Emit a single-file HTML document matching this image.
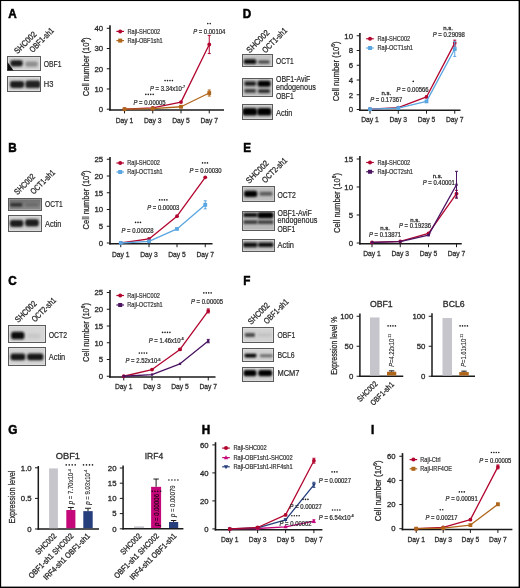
<!DOCTYPE html>
<html><head><meta charset="utf-8"><style>
html,body{margin:0;padding:0;background:#fff;overflow:hidden;width:520px;height:588px;}
svg{display:block;font-family:"Liberation Sans",sans-serif;will-change:transform;}
</style></head><body>
<svg width="520" height="588" viewBox="0 0 520 588">
<defs>
<filter id="b0" x="-50%" y="-100%" width="200%" height="300%"><feGaussianBlur stdDeviation="0.5"/></filter>
<filter id="b1" x="-50%" y="-100%" width="200%" height="300%"><feGaussianBlur stdDeviation="0.95"/></filter>
<filter id="b2" x="-50%" y="-100%" width="200%" height="300%"><feGaussianBlur stdDeviation="1.5"/></filter>
</defs>
<rect x="0" y="0" width="520" height="588" fill="#fff"/>
<text transform="translate(8.20,17.80) scale(0.900,1)" font-size="13" text-anchor="start" fill="#000" font-weight="bold" stroke="#000" stroke-width="0.55">A</text>
<text transform="translate(17.60,54.30) rotate(-45) scale(0.866,1)" font-size="8.4" text-anchor="start" fill="#2a2a2a" stroke="#2a2a2a" stroke-width="0.3">SHC002</text>
<text transform="translate(32.70,52.90) rotate(-45) scale(0.805,1)" font-size="8.4" text-anchor="start" fill="#2a2a2a" stroke="#2a2a2a" stroke-width="0.3">OBF1-sh1</text>
<rect x="7.50" y="56.50" width="33.00" height="14.00" fill="#d2d2d2"/>
<clipPath id="cp0"><rect x="7.50" y="56.50" width="33.00" height="14.00"/></clipPath>
<g clip-path="url(#cp0)">
<rect x="7.50" y="56.50" width="33.00" height="14.00" fill="none" stroke="#fff" stroke-opacity="0.3" stroke-width="2.4" filter="url(#b0)"/>
<rect x="10.40" y="60.30" width="12.30" height="6.10" rx="2.04" fill="#1e1e1e" filter="url(#b1)"/>
<rect x="25.40" y="61.40" width="12.30" height="5.40" rx="1.77" fill="#8e8e8e" filter="url(#b1)"/>
</g>
<rect x="7.50" y="56.50" width="33.00" height="14.00" fill="none" stroke="#5a5a5a" stroke-width="1"/>
<path d="M7.5,62 L7.5,70.5 L13.5,70.5 Z" fill="#111" filter="url(#b0)"/>
<rect x="7.50" y="76.50" width="33.00" height="15.00" fill="#d2d2d2"/>
<clipPath id="cp1"><rect x="7.50" y="76.50" width="33.00" height="15.00"/></clipPath>
<g clip-path="url(#cp1)">
<rect x="7.50" y="76.50" width="33.00" height="15.00" fill="none" stroke="#fff" stroke-opacity="0.3" stroke-width="2.4" filter="url(#b0)"/>
<rect x="10.00" y="80.90" width="14.20" height="7.10" rx="2.42" fill="#1e1e1e" filter="url(#b1)"/>
<rect x="25.40" y="80.50" width="15.00" height="7.50" rx="2.58" fill="#222" filter="url(#b1)"/>
</g>
<rect x="7.50" y="76.50" width="33.00" height="15.00" fill="none" stroke="#5a5a5a" stroke-width="1"/>
<text transform="translate(43.80,67.40) scale(0.807,1)" font-size="8.4" text-anchor="start" fill="#2a2a2a" stroke="#2a2a2a" stroke-width="0.2">OBF1</text>
<text transform="translate(43.80,86.60) scale(0.894,1)" font-size="8.4" text-anchor="start" fill="#2a2a2a" stroke="#2a2a2a" stroke-width="0.2">H3</text>
<line x1="110.00" y1="25.20" x2="110.00" y2="110.80" stroke="#1a1a1a" stroke-width="1.6"/>
<line x1="109.20" y1="110.00" x2="224.00" y2="110.00" stroke="#1a1a1a" stroke-width="1.6"/>
<line x1="106.80" y1="109.20" x2="110.00" y2="109.20" stroke="#1a1a1a" stroke-width="1"/>
<text transform="translate(103.10,112.01)" font-size="7.8" text-anchor="end" fill="#2a2a2a" stroke="#2a2a2a" stroke-width="0.3">0</text>
<line x1="106.80" y1="88.97" x2="110.00" y2="88.97" stroke="#1a1a1a" stroke-width="1"/>
<text transform="translate(103.10,91.78)" font-size="7.8" text-anchor="end" fill="#2a2a2a" stroke="#2a2a2a" stroke-width="0.3">10</text>
<line x1="106.80" y1="68.75" x2="110.00" y2="68.75" stroke="#1a1a1a" stroke-width="1"/>
<text transform="translate(103.10,71.56)" font-size="7.8" text-anchor="end" fill="#2a2a2a" stroke="#2a2a2a" stroke-width="0.3">20</text>
<line x1="106.80" y1="48.53" x2="110.00" y2="48.53" stroke="#1a1a1a" stroke-width="1"/>
<text transform="translate(103.10,51.33)" font-size="7.8" text-anchor="end" fill="#2a2a2a" stroke="#2a2a2a" stroke-width="0.3">30</text>
<line x1="106.80" y1="28.30" x2="110.00" y2="28.30" stroke="#1a1a1a" stroke-width="1"/>
<text transform="translate(103.10,31.11)" font-size="7.8" text-anchor="end" fill="#2a2a2a" stroke="#2a2a2a" stroke-width="0.3">40</text>
<line x1="124.50" y1="110.00" x2="124.50" y2="113.40" stroke="#1a1a1a" stroke-width="1"/>
<line x1="152.75" y1="110.00" x2="152.75" y2="113.40" stroke="#1a1a1a" stroke-width="1"/>
<line x1="181.00" y1="110.00" x2="181.00" y2="113.40" stroke="#1a1a1a" stroke-width="1"/>
<line x1="209.25" y1="110.00" x2="209.25" y2="113.40" stroke="#1a1a1a" stroke-width="1"/>
<polyline points="124.50,109.20 152.75,107.78 181.00,102.12 209.25,44.48" fill="none" stroke="#b2062f" stroke-width="1.3" stroke-linejoin="round"/>
<circle cx="124.50" cy="109.20" r="1.9" fill="#b2062f"/>
<circle cx="152.75" cy="107.78" r="1.9" fill="#b2062f"/>
<circle cx="181.00" cy="102.12" r="1.9" fill="#b2062f"/>
<line x1="209.25" y1="35.38" x2="209.25" y2="53.58" stroke="#b2062f" stroke-width="1"/>
<line x1="207.75" y1="35.38" x2="210.75" y2="35.38" stroke="#b2062f" stroke-width="1"/>
<line x1="207.75" y1="53.58" x2="210.75" y2="53.58" stroke="#b2062f" stroke-width="1"/>
<circle cx="209.25" cy="44.48" r="1.9" fill="#b2062f"/>
<polyline points="124.50,109.20 152.75,108.59 181.00,106.77 209.25,93.02" fill="none" stroke="#b0661a" stroke-width="1.3" stroke-linejoin="round"/>
<rect x="122.60" y="107.30" width="3.80" height="3.80" fill="#b0661a"/>
<rect x="150.85" y="106.69" width="3.80" height="3.80" fill="#b0661a"/>
<line x1="181.00" y1="106.17" x2="181.00" y2="107.38" stroke="#b0661a" stroke-width="1"/>
<line x1="179.50" y1="106.17" x2="182.50" y2="106.17" stroke="#b0661a" stroke-width="1"/>
<line x1="179.50" y1="107.38" x2="182.50" y2="107.38" stroke="#b0661a" stroke-width="1"/>
<rect x="179.10" y="104.87" width="3.80" height="3.80" fill="#b0661a"/>
<line x1="209.25" y1="89.99" x2="209.25" y2="96.05" stroke="#b0661a" stroke-width="1"/>
<line x1="207.75" y1="89.99" x2="210.75" y2="89.99" stroke="#b0661a" stroke-width="1"/>
<line x1="207.75" y1="96.05" x2="210.75" y2="96.05" stroke="#b0661a" stroke-width="1"/>
<rect x="207.35" y="91.12" width="3.80" height="3.80" fill="#b0661a"/>
<text transform="translate(89.18,66.80) rotate(-90) scale(0.823,1)" font-size="9.2" text-anchor="middle" fill="#2a2a2a" stroke="#2a2a2a" stroke-width="0.26">Cell number (10<tspan font-size="5.70" dy="-3.86">6</tspan><tspan dy="3.86">)</tspan></text>
<line x1="116.40" y1="31.40" x2="124.00" y2="31.40" stroke="#b2062f" stroke-width="1.2"/>
<circle cx="120.20" cy="31.40" r="2.0" fill="#b2062f"/>
<text transform="translate(127.50,33.85) scale(0.824,1)" font-size="6.8" text-anchor="start" fill="#333" stroke="#333" stroke-width="0.2">Raji-SHC002</text>
<line x1="116.40" y1="40.60" x2="124.00" y2="40.60" stroke="#b0661a" stroke-width="1.2"/>
<rect x="118.20" y="38.60" width="4.00" height="4.00" fill="#b0661a"/>
<text transform="translate(127.50,43.05) scale(0.824,1)" font-size="6.8" text-anchor="start" fill="#333" stroke="#333" stroke-width="0.2">Raji-OBF1sh1</text>
<circle cx="207.78" cy="23.60" r="0.8" fill="#1e1e1e"/>
<circle cx="210.22" cy="23.60" r="0.8" fill="#1e1e1e"/>
<text transform="translate(209.20,33.80) scale(0.900,1)" font-size="6.6" text-anchor="middle" fill="#2a2a2a" stroke="#2a2a2a" stroke-width="0.22"><tspan font-style="italic">P</tspan> = 0.00104</text>
<circle cx="165.07" cy="80.60" r="0.8" fill="#1e1e1e"/>
<circle cx="167.52" cy="80.60" r="0.8" fill="#1e1e1e"/>
<circle cx="169.97" cy="80.60" r="0.8" fill="#1e1e1e"/>
<circle cx="172.42" cy="80.60" r="0.8" fill="#1e1e1e"/>
<text transform="translate(167.50,91.00) scale(0.900,1)" font-size="6.6" text-anchor="middle" fill="#2a2a2a" stroke="#2a2a2a" stroke-width="0.22"><tspan font-style="italic">P</tspan> = 3.34x10<tspan font-size="4.09" dy="-2.64">-7</tspan></text>
<circle cx="145.82" cy="94.40" r="0.8" fill="#1e1e1e"/>
<circle cx="148.27" cy="94.40" r="0.8" fill="#1e1e1e"/>
<circle cx="150.72" cy="94.40" r="0.8" fill="#1e1e1e"/>
<circle cx="153.17" cy="94.40" r="0.8" fill="#1e1e1e"/>
<text transform="translate(149.50,104.70) scale(0.900,1)" font-size="6.6" text-anchor="middle" fill="#2a2a2a" stroke="#2a2a2a" stroke-width="0.22"><tspan font-style="italic">P</tspan> = 0.00005</text>
<text transform="translate(124.50,122.70) scale(0.940,1)" font-size="7.2" text-anchor="middle" fill="#2a2a2a" stroke="#2a2a2a" stroke-width="0.26">Day 1</text>
<text transform="translate(152.75,122.70) scale(0.940,1)" font-size="7.2" text-anchor="middle" fill="#2a2a2a" stroke="#2a2a2a" stroke-width="0.26">Day 3</text>
<text transform="translate(181.00,122.70) scale(0.940,1)" font-size="7.2" text-anchor="middle" fill="#2a2a2a" stroke="#2a2a2a" stroke-width="0.26">Day 5</text>
<text transform="translate(209.25,122.70) scale(0.940,1)" font-size="7.2" text-anchor="middle" fill="#2a2a2a" stroke="#2a2a2a" stroke-width="0.26">Day 7</text>
<text transform="translate(8.20,151.80) scale(0.900,1)" font-size="13" text-anchor="start" fill="#000" font-weight="bold" stroke="#000" stroke-width="0.55">B</text>
<text transform="translate(17.60,195.30) rotate(-45) scale(0.809,1)" font-size="8.4" text-anchor="start" fill="#2a2a2a" stroke="#2a2a2a" stroke-width="0.3">SHC002</text>
<text transform="translate(33.80,194.80) rotate(-45) scale(0.795,1)" font-size="8.4" text-anchor="start" fill="#2a2a2a" stroke="#2a2a2a" stroke-width="0.3">OCT1-sh1</text>
<linearGradient id="bg2" x1="0" y1="0" x2="0" y2="1"><stop offset="0" stop-color="#6e6e6e"/><stop offset="1" stop-color="#8e8e8e"/></linearGradient>
<rect x="8.50" y="198.50" width="33.00" height="12.00" fill="url(#bg2)"/>
<clipPath id="cp2"><rect x="8.50" y="198.50" width="33.00" height="12.00"/></clipPath>
<g clip-path="url(#cp2)">
<rect x="8.50" y="198.50" width="33.00" height="12.00" fill="none" stroke="#fff" stroke-opacity="0.3" stroke-width="2.4" filter="url(#b0)"/>
<rect x="10.20" y="203.00" width="12.10" height="3.50" rx="1.04" fill="#2e2e2e" filter="url(#b1)"/>
<rect x="25.40" y="203.10" width="13.00" height="3.30" rx="0.96" fill="#6a6a6a" filter="url(#b1)"/>
</g>
<rect x="8.50" y="198.50" width="33.00" height="12.00" fill="none" stroke="#5a5a5a" stroke-width="1"/>
<rect x="8.50" y="215.50" width="33.00" height="16.00" fill="#d0d0d0"/>
<clipPath id="cp3"><rect x="8.50" y="215.50" width="33.00" height="16.00"/></clipPath>
<g clip-path="url(#cp3)">
<rect x="8.50" y="215.50" width="33.00" height="16.00" fill="none" stroke="#fff" stroke-opacity="0.3" stroke-width="2.4" filter="url(#b0)"/>
<rect x="9.80" y="220.00" width="13.60" height="7.00" rx="2.38" fill="#1a1a1a" filter="url(#b1)"/>
<rect x="25.10" y="219.20" width="13.80" height="7.20" rx="2.46" fill="#1e1e1e" filter="url(#b1)"/>
</g>
<rect x="8.50" y="215.50" width="33.00" height="16.00" fill="none" stroke="#5a5a5a" stroke-width="1"/>
<text transform="translate(45.00,207.30) scale(0.790,1)" font-size="8.4" text-anchor="start" fill="#2a2a2a" stroke="#2a2a2a" stroke-width="0.2">OCT1</text>
<text transform="translate(45.00,226.50) scale(0.884,1)" font-size="8.4" text-anchor="start" fill="#2a2a2a" stroke="#2a2a2a" stroke-width="0.2">Actin</text>
<line x1="110.00" y1="157.00" x2="110.00" y2="244.60" stroke="#1a1a1a" stroke-width="1.6"/>
<line x1="109.20" y1="243.80" x2="212.50" y2="243.80" stroke="#1a1a1a" stroke-width="1.6"/>
<line x1="106.80" y1="243.00" x2="110.00" y2="243.00" stroke="#1a1a1a" stroke-width="1"/>
<text transform="translate(103.10,245.81)" font-size="7.8" text-anchor="end" fill="#2a2a2a" stroke="#2a2a2a" stroke-width="0.3">0</text>
<line x1="106.80" y1="226.25" x2="110.00" y2="226.25" stroke="#1a1a1a" stroke-width="1"/>
<text transform="translate(103.10,229.06)" font-size="7.8" text-anchor="end" fill="#2a2a2a" stroke="#2a2a2a" stroke-width="0.3">5</text>
<line x1="106.80" y1="209.50" x2="110.00" y2="209.50" stroke="#1a1a1a" stroke-width="1"/>
<text transform="translate(103.10,212.31)" font-size="7.8" text-anchor="end" fill="#2a2a2a" stroke="#2a2a2a" stroke-width="0.3">10</text>
<line x1="106.80" y1="192.75" x2="110.00" y2="192.75" stroke="#1a1a1a" stroke-width="1"/>
<text transform="translate(103.10,195.56)" font-size="7.8" text-anchor="end" fill="#2a2a2a" stroke="#2a2a2a" stroke-width="0.3">15</text>
<line x1="106.80" y1="176.00" x2="110.00" y2="176.00" stroke="#1a1a1a" stroke-width="1"/>
<text transform="translate(103.10,178.81)" font-size="7.8" text-anchor="end" fill="#2a2a2a" stroke="#2a2a2a" stroke-width="0.3">20</text>
<line x1="106.80" y1="159.25" x2="110.00" y2="159.25" stroke="#1a1a1a" stroke-width="1"/>
<text transform="translate(103.10,162.06)" font-size="7.8" text-anchor="end" fill="#2a2a2a" stroke="#2a2a2a" stroke-width="0.3">25</text>
<line x1="120.75" y1="243.80" x2="120.75" y2="247.20" stroke="#1a1a1a" stroke-width="1"/>
<line x1="149.00" y1="243.80" x2="149.00" y2="247.20" stroke="#1a1a1a" stroke-width="1"/>
<line x1="177.00" y1="243.80" x2="177.00" y2="247.20" stroke="#1a1a1a" stroke-width="1"/>
<line x1="205.25" y1="243.80" x2="205.25" y2="247.20" stroke="#1a1a1a" stroke-width="1"/>
<polyline points="120.75,243.00 149.00,238.98 177.00,216.20 205.25,177.34" fill="none" stroke="#b2062f" stroke-width="1.3" stroke-linejoin="round"/>
<circle cx="120.75" cy="243.00" r="1.9" fill="#b2062f"/>
<circle cx="149.00" cy="238.98" r="1.9" fill="#b2062f"/>
<circle cx="177.00" cy="216.20" r="1.9" fill="#b2062f"/>
<circle cx="205.25" cy="177.34" r="1.9" fill="#b2062f"/>
<polyline points="120.75,243.00 149.00,241.32 177.00,228.93 205.25,204.81" fill="none" stroke="#5aa6e0" stroke-width="1.3" stroke-linejoin="round"/>
<rect x="118.85" y="241.10" width="3.80" height="3.80" fill="#5aa6e0"/>
<rect x="147.10" y="239.42" width="3.80" height="3.80" fill="#5aa6e0"/>
<rect x="175.10" y="227.03" width="3.80" height="3.80" fill="#5aa6e0"/>
<line x1="205.25" y1="200.79" x2="205.25" y2="208.83" stroke="#5aa6e0" stroke-width="1"/>
<line x1="203.75" y1="200.79" x2="206.75" y2="200.79" stroke="#5aa6e0" stroke-width="1"/>
<line x1="203.75" y1="208.83" x2="206.75" y2="208.83" stroke="#5aa6e0" stroke-width="1"/>
<rect x="203.35" y="202.91" width="3.80" height="3.80" fill="#5aa6e0"/>
<text transform="translate(88.83,200.00) rotate(-90) scale(0.823,1)" font-size="9.2" text-anchor="middle" fill="#2a2a2a" stroke="#2a2a2a" stroke-width="0.26">Cell number (10<tspan font-size="5.70" dy="-3.86">6</tspan><tspan dy="3.86">)</tspan></text>
<line x1="116.40" y1="163.00" x2="124.00" y2="163.00" stroke="#b2062f" stroke-width="1.2"/>
<circle cx="120.20" cy="163.00" r="2.0" fill="#b2062f"/>
<text transform="translate(127.30,165.45) scale(0.824,1)" font-size="6.8" text-anchor="start" fill="#333" stroke="#333" stroke-width="0.2">Raji-SHC002</text>
<line x1="116.40" y1="172.00" x2="124.00" y2="172.00" stroke="#5aa6e0" stroke-width="1.2"/>
<rect x="118.20" y="170.00" width="4.00" height="4.00" fill="#5aa6e0"/>
<text transform="translate(127.30,174.45) scale(0.824,1)" font-size="6.8" text-anchor="start" fill="#333" stroke="#333" stroke-width="0.2">Raji-OCT1sh1</text>
<circle cx="202.55" cy="162.90" r="0.8" fill="#1e1e1e"/>
<circle cx="205.00" cy="162.90" r="0.8" fill="#1e1e1e"/>
<circle cx="207.45" cy="162.90" r="0.8" fill="#1e1e1e"/>
<text transform="translate(205.50,173.40) scale(0.900,1)" font-size="6.6" text-anchor="middle" fill="#2a2a2a" stroke="#2a2a2a" stroke-width="0.22"><tspan font-style="italic">P</tspan> = 0.00030</text>
<circle cx="159.57" cy="199.90" r="0.8" fill="#1e1e1e"/>
<circle cx="162.02" cy="199.90" r="0.8" fill="#1e1e1e"/>
<circle cx="164.47" cy="199.90" r="0.8" fill="#1e1e1e"/>
<circle cx="166.92" cy="199.90" r="0.8" fill="#1e1e1e"/>
<text transform="translate(163.25,210.40) scale(0.900,1)" font-size="6.6" text-anchor="middle" fill="#2a2a2a" stroke="#2a2a2a" stroke-width="0.22"><tspan font-style="italic">P</tspan> = 0.00003</text>
<circle cx="135.55" cy="222.40" r="0.8" fill="#1e1e1e"/>
<circle cx="138.00" cy="222.40" r="0.8" fill="#1e1e1e"/>
<circle cx="140.45" cy="222.40" r="0.8" fill="#1e1e1e"/>
<text transform="translate(137.50,233.00) scale(0.900,1)" font-size="6.6" text-anchor="middle" fill="#2a2a2a" stroke="#2a2a2a" stroke-width="0.22"><tspan font-style="italic">P</tspan> = 0.00028</text>
<text transform="translate(120.75,256.60) scale(0.940,1)" font-size="7.2" text-anchor="middle" fill="#2a2a2a" stroke="#2a2a2a" stroke-width="0.26">Day 1</text>
<text transform="translate(149.00,256.60) scale(0.940,1)" font-size="7.2" text-anchor="middle" fill="#2a2a2a" stroke="#2a2a2a" stroke-width="0.26">Day 3</text>
<text transform="translate(177.00,256.60) scale(0.940,1)" font-size="7.2" text-anchor="middle" fill="#2a2a2a" stroke="#2a2a2a" stroke-width="0.26">Day 5</text>
<text transform="translate(205.25,256.60) scale(0.940,1)" font-size="7.2" text-anchor="middle" fill="#2a2a2a" stroke="#2a2a2a" stroke-width="0.26">Day 7</text>
<text transform="translate(8.20,284.80) scale(0.900,1)" font-size="13" text-anchor="start" fill="#000" font-weight="bold" stroke="#000" stroke-width="0.55">C</text>
<text transform="translate(18.30,323.10) rotate(-45) scale(0.841,1)" font-size="8.4" text-anchor="start" fill="#2a2a2a" stroke="#2a2a2a" stroke-width="0.3">SHC002</text>
<text transform="translate(34.90,322.60) rotate(-45) scale(0.795,1)" font-size="8.4" text-anchor="start" fill="#2a2a2a" stroke="#2a2a2a" stroke-width="0.3">OCT2-sh1</text>
<rect x="8.50" y="325.50" width="37.00" height="17.00" fill="#d6d6d6"/>
<clipPath id="cp4"><rect x="8.50" y="325.50" width="37.00" height="17.00"/></clipPath>
<g clip-path="url(#cp4)">
<rect x="8.50" y="325.50" width="37.00" height="17.00" fill="none" stroke="#fff" stroke-opacity="0.3" stroke-width="2.4" filter="url(#b0)"/>
<rect x="11.10" y="331.80" width="13.30" height="7.40" rx="2.54" fill="#0e0e0e" filter="url(#b1)"/>
<rect x="27.60" y="333.60" width="12.80" height="4.80" rx="1.54" fill="#c8c8c8" filter="url(#b1)"/>
</g>
<rect x="8.50" y="325.50" width="37.00" height="17.00" fill="none" stroke="#5a5a5a" stroke-width="1"/>
<rect x="8.50" y="347.50" width="37.00" height="18.00" fill="#d4d4d4"/>
<clipPath id="cp5"><rect x="8.50" y="347.50" width="37.00" height="18.00"/></clipPath>
<g clip-path="url(#cp5)">
<rect x="8.50" y="347.50" width="37.00" height="18.00" fill="none" stroke="#fff" stroke-opacity="0.3" stroke-width="2.4" filter="url(#b0)"/>
<rect x="10.50" y="353.60" width="14.80" height="6.60" rx="2.23" fill="#141414" filter="url(#b1)"/>
<rect x="27.10" y="353.40" width="16.30" height="6.80" rx="2.31" fill="#141414" filter="url(#b1)"/>
</g>
<rect x="8.50" y="347.50" width="37.00" height="18.00" fill="none" stroke="#5a5a5a" stroke-width="1"/>
<text transform="translate(48.75,338.20) scale(0.817,1)" font-size="8.4" text-anchor="start" fill="#2a2a2a" stroke="#2a2a2a" stroke-width="0.2">OCT2</text>
<text transform="translate(48.75,359.70) scale(0.884,1)" font-size="8.4" text-anchor="start" fill="#2a2a2a" stroke="#2a2a2a" stroke-width="0.2">Actin</text>
<line x1="110.00" y1="290.00" x2="110.00" y2="377.85" stroke="#1a1a1a" stroke-width="1.6"/>
<line x1="109.20" y1="377.05" x2="215.50" y2="377.05" stroke="#1a1a1a" stroke-width="1.6"/>
<line x1="106.80" y1="376.25" x2="110.00" y2="376.25" stroke="#1a1a1a" stroke-width="1"/>
<text transform="translate(103.10,379.06)" font-size="7.8" text-anchor="end" fill="#2a2a2a" stroke="#2a2a2a" stroke-width="0.3">0</text>
<line x1="106.80" y1="359.50" x2="110.00" y2="359.50" stroke="#1a1a1a" stroke-width="1"/>
<text transform="translate(103.10,362.31)" font-size="7.8" text-anchor="end" fill="#2a2a2a" stroke="#2a2a2a" stroke-width="0.3">5</text>
<line x1="106.80" y1="342.75" x2="110.00" y2="342.75" stroke="#1a1a1a" stroke-width="1"/>
<text transform="translate(103.10,345.56)" font-size="7.8" text-anchor="end" fill="#2a2a2a" stroke="#2a2a2a" stroke-width="0.3">10</text>
<line x1="106.80" y1="326.00" x2="110.00" y2="326.00" stroke="#1a1a1a" stroke-width="1"/>
<text transform="translate(103.10,328.81)" font-size="7.8" text-anchor="end" fill="#2a2a2a" stroke="#2a2a2a" stroke-width="0.3">15</text>
<line x1="106.80" y1="309.25" x2="110.00" y2="309.25" stroke="#1a1a1a" stroke-width="1"/>
<text transform="translate(103.10,312.06)" font-size="7.8" text-anchor="end" fill="#2a2a2a" stroke="#2a2a2a" stroke-width="0.3">20</text>
<line x1="106.80" y1="292.50" x2="110.00" y2="292.50" stroke="#1a1a1a" stroke-width="1"/>
<text transform="translate(103.10,295.31)" font-size="7.8" text-anchor="end" fill="#2a2a2a" stroke="#2a2a2a" stroke-width="0.3">25</text>
<line x1="123.75" y1="377.05" x2="123.75" y2="380.45" stroke="#1a1a1a" stroke-width="1"/>
<line x1="152.00" y1="377.05" x2="152.00" y2="380.45" stroke="#1a1a1a" stroke-width="1"/>
<line x1="180.00" y1="377.05" x2="180.00" y2="380.45" stroke="#1a1a1a" stroke-width="1"/>
<line x1="208.25" y1="377.05" x2="208.25" y2="380.45" stroke="#1a1a1a" stroke-width="1"/>
<polyline points="123.75,376.25 152.00,369.55 180.00,349.45 208.25,310.93" fill="none" stroke="#b2062f" stroke-width="1.3" stroke-linejoin="round"/>
<circle cx="123.75" cy="376.25" r="1.9" fill="#b2062f"/>
<circle cx="152.00" cy="369.55" r="1.9" fill="#b2062f"/>
<line x1="180.00" y1="348.78" x2="180.00" y2="350.12" stroke="#b2062f" stroke-width="1"/>
<line x1="178.50" y1="348.78" x2="181.50" y2="348.78" stroke="#b2062f" stroke-width="1"/>
<line x1="178.50" y1="350.12" x2="181.50" y2="350.12" stroke="#b2062f" stroke-width="1"/>
<circle cx="180.00" cy="349.45" r="1.9" fill="#b2062f"/>
<line x1="208.25" y1="308.91" x2="208.25" y2="312.94" stroke="#b2062f" stroke-width="1"/>
<line x1="206.75" y1="308.91" x2="209.75" y2="308.91" stroke="#b2062f" stroke-width="1"/>
<line x1="206.75" y1="312.94" x2="209.75" y2="312.94" stroke="#b2062f" stroke-width="1"/>
<circle cx="208.25" cy="310.93" r="1.9" fill="#b2062f"/>
<polyline points="123.75,376.25 152.00,374.57 180.00,363.86 208.25,341.07" fill="none" stroke="#4a1462" stroke-width="1.3" stroke-linejoin="round"/>
<rect x="122.60" y="375.10" width="2.30" height="2.30" fill="#4a1462"/>
<rect x="150.85" y="373.43" width="2.30" height="2.30" fill="#4a1462"/>
<rect x="178.85" y="362.71" width="2.30" height="2.30" fill="#4a1462"/>
<line x1="208.25" y1="339.40" x2="208.25" y2="342.75" stroke="#4a1462" stroke-width="1"/>
<line x1="206.75" y1="339.40" x2="209.75" y2="339.40" stroke="#4a1462" stroke-width="1"/>
<line x1="206.75" y1="342.75" x2="209.75" y2="342.75" stroke="#4a1462" stroke-width="1"/>
<rect x="207.10" y="339.93" width="2.30" height="2.30" fill="#4a1462"/>
<text transform="translate(88.83,332.50) rotate(-90) scale(0.823,1)" font-size="9.2" text-anchor="middle" fill="#2a2a2a" stroke="#2a2a2a" stroke-width="0.26">Cell number (10<tspan font-size="5.70" dy="-3.86">6</tspan><tspan dy="3.86">)</tspan></text>
<line x1="116.40" y1="295.50" x2="124.00" y2="295.50" stroke="#b2062f" stroke-width="1.2"/>
<circle cx="120.20" cy="295.50" r="2.0" fill="#b2062f"/>
<text transform="translate(127.30,297.95) scale(0.824,1)" font-size="6.8" text-anchor="start" fill="#333" stroke="#333" stroke-width="0.2">Raji-SHC002</text>
<line x1="116.40" y1="305.00" x2="124.00" y2="305.00" stroke="#4a1462" stroke-width="1.2"/>
<rect x="118.20" y="303.00" width="4.00" height="4.00" fill="#4a1462"/>
<text transform="translate(127.30,307.45) scale(0.824,1)" font-size="6.8" text-anchor="start" fill="#333" stroke="#333" stroke-width="0.2">Raji-OCT2sh1</text>
<circle cx="203.82" cy="292.90" r="0.8" fill="#1e1e1e"/>
<circle cx="206.27" cy="292.90" r="0.8" fill="#1e1e1e"/>
<circle cx="208.72" cy="292.90" r="0.8" fill="#1e1e1e"/>
<circle cx="211.17" cy="292.90" r="0.8" fill="#1e1e1e"/>
<text transform="translate(207.00,304.00) scale(0.900,1)" font-size="6.6" text-anchor="middle" fill="#2a2a2a" stroke="#2a2a2a" stroke-width="0.22"><tspan font-style="italic">P</tspan> = 0.00005</text>
<circle cx="162.57" cy="332.40" r="0.8" fill="#1e1e1e"/>
<circle cx="165.02" cy="332.40" r="0.8" fill="#1e1e1e"/>
<circle cx="167.47" cy="332.40" r="0.8" fill="#1e1e1e"/>
<circle cx="169.92" cy="332.40" r="0.8" fill="#1e1e1e"/>
<text transform="translate(166.25,342.70) scale(0.900,1)" font-size="6.6" text-anchor="middle" fill="#2a2a2a" stroke="#2a2a2a" stroke-width="0.22"><tspan font-style="italic">P</tspan> = 1.46x10<tspan font-size="4.09" dy="-2.64">-6</tspan></text>
<circle cx="139.32" cy="353.10" r="0.8" fill="#1e1e1e"/>
<circle cx="141.77" cy="353.10" r="0.8" fill="#1e1e1e"/>
<circle cx="144.22" cy="353.10" r="0.8" fill="#1e1e1e"/>
<circle cx="146.67" cy="353.10" r="0.8" fill="#1e1e1e"/>
<text transform="translate(143.00,363.40) scale(0.900,1)" font-size="6.6" text-anchor="middle" fill="#2a2a2a" stroke="#2a2a2a" stroke-width="0.22"><tspan font-style="italic">P</tspan> = 2.52x10<tspan font-size="4.09" dy="-2.64">-6</tspan></text>
<text transform="translate(123.75,389.40) scale(0.940,1)" font-size="7.2" text-anchor="middle" fill="#2a2a2a" stroke="#2a2a2a" stroke-width="0.26">Day 1</text>
<text transform="translate(152.00,389.40) scale(0.940,1)" font-size="7.2" text-anchor="middle" fill="#2a2a2a" stroke="#2a2a2a" stroke-width="0.26">Day 3</text>
<text transform="translate(180.00,389.40) scale(0.940,1)" font-size="7.2" text-anchor="middle" fill="#2a2a2a" stroke="#2a2a2a" stroke-width="0.26">Day 5</text>
<text transform="translate(208.25,389.40) scale(0.940,1)" font-size="7.2" text-anchor="middle" fill="#2a2a2a" stroke="#2a2a2a" stroke-width="0.26">Day 7</text>
<text transform="translate(242.70,18.00) scale(0.900,1)" font-size="13" text-anchor="start" fill="#000" font-weight="bold" stroke="#000" stroke-width="0.55">D</text>
<text transform="translate(249.85,53.40) rotate(-45) scale(0.895,1)" font-size="8.4" text-anchor="start" fill="#2a2a2a" stroke="#2a2a2a" stroke-width="0.3">SHC002</text>
<text transform="translate(265.50,53.40) rotate(-45) scale(0.813,1)" font-size="8.4" text-anchor="start" fill="#2a2a2a" stroke="#2a2a2a" stroke-width="0.3">OCT1-sh1</text>
<rect x="242.50" y="54.50" width="30.00" height="12.00" fill="#c4c4c4"/>
<clipPath id="cp6"><rect x="242.50" y="54.50" width="30.00" height="12.00"/></clipPath>
<g clip-path="url(#cp6)">
<rect x="242.50" y="54.50" width="30.00" height="12.00" fill="none" stroke="#fff" stroke-opacity="0.3" stroke-width="2.4" filter="url(#b0)"/>
<rect x="243.80" y="59.20" width="12.50" height="4.80" rx="1.54" fill="#080808" filter="url(#b1)"/>
<rect x="258.30" y="60.50" width="11.20" height="3.10" rx="0.88" fill="#3e3e3e" filter="url(#b1)"/>
</g>
<rect x="242.50" y="54.50" width="30.00" height="12.00" fill="none" stroke="#5a5a5a" stroke-width="1"/>
<rect x="242.50" y="78.50" width="30.00" height="18.00" fill="#bebebe"/>
<clipPath id="cp7"><rect x="242.50" y="78.50" width="30.00" height="18.00"/></clipPath>
<g clip-path="url(#cp7)">
<rect x="242.50" y="78.50" width="30.00" height="18.00" fill="none" stroke="#fff" stroke-opacity="0.3" stroke-width="2.4" filter="url(#b0)"/>
<rect x="244.50" y="81.40" width="11.40" height="4.40" rx="1.38" fill="#141414" filter="url(#b1)"/>
<rect x="257.60" y="80.70" width="13.00" height="6.00" rx="2.00" fill="#000" filter="url(#b1)"/>
<rect x="244.50" y="89.10" width="11.40" height="3.70" rx="1.12" fill="#3a3a3a" filter="url(#b1)"/>
<rect x="258.10" y="89.20" width="11.80" height="3.70" rx="1.12" fill="#2a2a2a" filter="url(#b1)"/>
</g>
<rect x="242.50" y="78.50" width="30.00" height="18.00" fill="none" stroke="#5a5a5a" stroke-width="1"/>
<rect x="242.50" y="104.50" width="30.00" height="15.00" fill="#c6c6c6"/>
<clipPath id="cp8"><rect x="242.50" y="104.50" width="30.00" height="15.00"/></clipPath>
<g clip-path="url(#cp8)">
<rect x="242.50" y="104.50" width="30.00" height="15.00" fill="none" stroke="#fff" stroke-opacity="0.3" stroke-width="2.4" filter="url(#b0)"/>
<rect x="242.50" y="107.90" width="14.60" height="7.70" rx="2.65" fill="#000" filter="url(#b1)"/>
<rect x="257.20" y="108.00" width="14.20" height="7.50" rx="2.58" fill="#000" filter="url(#b1)"/>
</g>
<rect x="242.50" y="104.50" width="30.00" height="15.00" fill="none" stroke="#5a5a5a" stroke-width="1"/>
<text transform="translate(276.00,63.60) scale(0.790,1)" font-size="8.4" text-anchor="start" fill="#2a2a2a" stroke="#2a2a2a" stroke-width="0.2">OCT1</text>
<text transform="translate(276.00,82.20) scale(0.831,1)" font-size="8.4" text-anchor="start" fill="#2a2a2a" stroke="#2a2a2a" stroke-width="0.2">OBF1-AviF</text>
<text transform="translate(276.00,90.30) scale(0.861,1)" font-size="8.4" text-anchor="start" fill="#2a2a2a" stroke="#2a2a2a" stroke-width="0.2">endogenous</text>
<text transform="translate(276.00,98.60) scale(0.807,1)" font-size="8.4" text-anchor="start" fill="#2a2a2a" stroke="#2a2a2a" stroke-width="0.2">OBF1</text>
<text transform="translate(276.00,115.50) scale(0.884,1)" font-size="8.4" text-anchor="start" fill="#2a2a2a" stroke="#2a2a2a" stroke-width="0.2">Actin</text>
<line x1="359.90" y1="33.00" x2="359.90" y2="111.10" stroke="#1a1a1a" stroke-width="1.6"/>
<line x1="359.10" y1="110.30" x2="460.50" y2="110.30" stroke="#1a1a1a" stroke-width="1.6"/>
<line x1="356.70" y1="109.50" x2="359.90" y2="109.50" stroke="#1a1a1a" stroke-width="1"/>
<text transform="translate(353.00,112.31)" font-size="7.8" text-anchor="end" fill="#2a2a2a" stroke="#2a2a2a" stroke-width="0.3">0</text>
<line x1="356.70" y1="94.75" x2="359.90" y2="94.75" stroke="#1a1a1a" stroke-width="1"/>
<text transform="translate(353.00,97.56)" font-size="7.8" text-anchor="end" fill="#2a2a2a" stroke="#2a2a2a" stroke-width="0.3">2</text>
<line x1="356.70" y1="80.00" x2="359.90" y2="80.00" stroke="#1a1a1a" stroke-width="1"/>
<text transform="translate(353.00,82.81)" font-size="7.8" text-anchor="end" fill="#2a2a2a" stroke="#2a2a2a" stroke-width="0.3">4</text>
<line x1="356.70" y1="65.25" x2="359.90" y2="65.25" stroke="#1a1a1a" stroke-width="1"/>
<text transform="translate(353.00,68.06)" font-size="7.8" text-anchor="end" fill="#2a2a2a" stroke="#2a2a2a" stroke-width="0.3">6</text>
<line x1="356.70" y1="50.50" x2="359.90" y2="50.50" stroke="#1a1a1a" stroke-width="1"/>
<text transform="translate(353.00,53.31)" font-size="7.8" text-anchor="end" fill="#2a2a2a" stroke="#2a2a2a" stroke-width="0.3">8</text>
<line x1="356.70" y1="35.75" x2="359.90" y2="35.75" stroke="#1a1a1a" stroke-width="1"/>
<text transform="translate(353.00,38.56)" font-size="7.8" text-anchor="end" fill="#2a2a2a" stroke="#2a2a2a" stroke-width="0.3">10</text>
<line x1="370.00" y1="110.30" x2="370.00" y2="113.70" stroke="#1a1a1a" stroke-width="1"/>
<line x1="398.25" y1="110.30" x2="398.25" y2="113.70" stroke="#1a1a1a" stroke-width="1"/>
<line x1="426.50" y1="110.30" x2="426.50" y2="113.70" stroke="#1a1a1a" stroke-width="1"/>
<line x1="454.75" y1="110.30" x2="454.75" y2="113.70" stroke="#1a1a1a" stroke-width="1"/>
<polyline points="370.00,109.13 398.25,107.66 426.50,96.96 454.75,43.12" fill="none" stroke="#b2062f" stroke-width="1.3" stroke-linejoin="round"/>
<circle cx="370.00" cy="109.13" r="1.9" fill="#b2062f"/>
<circle cx="398.25" cy="107.66" r="1.9" fill="#b2062f"/>
<line x1="426.50" y1="96.22" x2="426.50" y2="97.70" stroke="#b2062f" stroke-width="1"/>
<line x1="425.00" y1="96.22" x2="428.00" y2="96.22" stroke="#b2062f" stroke-width="1"/>
<line x1="425.00" y1="97.70" x2="428.00" y2="97.70" stroke="#b2062f" stroke-width="1"/>
<circle cx="426.50" cy="96.96" r="1.9" fill="#b2062f"/>
<line x1="454.75" y1="40.17" x2="454.75" y2="46.08" stroke="#b2062f" stroke-width="1"/>
<line x1="453.25" y1="40.17" x2="456.25" y2="40.17" stroke="#b2062f" stroke-width="1"/>
<line x1="453.25" y1="46.08" x2="456.25" y2="46.08" stroke="#b2062f" stroke-width="1"/>
<circle cx="454.75" cy="43.12" r="1.9" fill="#b2062f"/>
<polyline points="370.00,109.13 398.25,108.03 426.50,101.39 454.75,49.03" fill="none" stroke="#5aa6e0" stroke-width="1.3" stroke-linejoin="round"/>
<rect x="368.10" y="107.23" width="3.80" height="3.80" fill="#5aa6e0"/>
<rect x="396.35" y="106.12" width="3.80" height="3.80" fill="#5aa6e0"/>
<line x1="426.50" y1="100.65" x2="426.50" y2="102.12" stroke="#5aa6e0" stroke-width="1"/>
<line x1="425.00" y1="100.65" x2="428.00" y2="100.65" stroke="#5aa6e0" stroke-width="1"/>
<line x1="425.00" y1="102.12" x2="428.00" y2="102.12" stroke="#5aa6e0" stroke-width="1"/>
<rect x="424.60" y="99.49" width="3.80" height="3.80" fill="#5aa6e0"/>
<line x1="454.75" y1="41.65" x2="454.75" y2="56.40" stroke="#5aa6e0" stroke-width="1"/>
<line x1="453.25" y1="41.65" x2="456.25" y2="41.65" stroke="#5aa6e0" stroke-width="1"/>
<line x1="453.25" y1="56.40" x2="456.25" y2="56.40" stroke="#5aa6e0" stroke-width="1"/>
<rect x="452.85" y="47.13" width="3.80" height="3.80" fill="#5aa6e0"/>
<text transform="translate(338.88,71.40) rotate(-90) scale(0.837,1)" font-size="9.2" text-anchor="middle" fill="#2a2a2a" stroke="#2a2a2a" stroke-width="0.26">Cell number (10<tspan font-size="5.70" dy="-3.86">6</tspan><tspan dy="3.86">)</tspan></text>
<line x1="366.20" y1="38.75" x2="373.80" y2="38.75" stroke="#b2062f" stroke-width="1.2"/>
<circle cx="370.00" cy="38.75" r="2.0" fill="#b2062f"/>
<text transform="translate(377.50,41.20) scale(0.824,1)" font-size="6.8" text-anchor="start" fill="#333" stroke="#333" stroke-width="0.2">Raji-SHC002</text>
<line x1="366.20" y1="48.00" x2="373.80" y2="48.00" stroke="#5aa6e0" stroke-width="1.2"/>
<rect x="368.00" y="46.00" width="4.00" height="4.00" fill="#5aa6e0"/>
<text transform="translate(377.50,50.45) scale(0.824,1)" font-size="6.8" text-anchor="start" fill="#333" stroke="#333" stroke-width="0.2">Raji-OCT1sh1</text>
<text transform="translate(448.00,29.50)" font-size="6" text-anchor="middle" fill="#2a2a2a" stroke="#2a2a2a" stroke-width="0.3">n.s.</text>
<text transform="translate(448.75,36.70) scale(0.900,1)" font-size="6.6" text-anchor="middle" fill="#2a2a2a" stroke="#2a2a2a" stroke-width="0.22"><tspan font-style="italic">P</tspan> = 0.29098</text>
<circle cx="413.25" cy="81.40" r="0.8" fill="#1e1e1e"/>
<text transform="translate(412.50,91.70) scale(0.900,1)" font-size="6.6" text-anchor="middle" fill="#2a2a2a" stroke="#2a2a2a" stroke-width="0.22"><tspan font-style="italic">P</tspan> = 0.00566</text>
<text transform="translate(386.25,95.30)" font-size="6" text-anchor="middle" fill="#2a2a2a" stroke="#2a2a2a" stroke-width="0.3">n.s.</text>
<text transform="translate(386.25,102.20) scale(0.900,1)" font-size="6.6" text-anchor="middle" fill="#2a2a2a" stroke="#2a2a2a" stroke-width="0.22"><tspan font-style="italic">P</tspan> = 0.17367</text>
<text transform="translate(370.00,122.30) scale(0.940,1)" font-size="7.2" text-anchor="middle" fill="#2a2a2a" stroke="#2a2a2a" stroke-width="0.26">Day 1</text>
<text transform="translate(398.25,122.30) scale(0.940,1)" font-size="7.2" text-anchor="middle" fill="#2a2a2a" stroke="#2a2a2a" stroke-width="0.26">Day 3</text>
<text transform="translate(426.50,122.30) scale(0.940,1)" font-size="7.2" text-anchor="middle" fill="#2a2a2a" stroke="#2a2a2a" stroke-width="0.26">Day 5</text>
<text transform="translate(454.75,122.30) scale(0.940,1)" font-size="7.2" text-anchor="middle" fill="#2a2a2a" stroke="#2a2a2a" stroke-width="0.26">Day 7</text>
<text transform="translate(243.20,151.80) scale(0.900,1)" font-size="13" text-anchor="start" fill="#000" font-weight="bold" stroke="#000" stroke-width="0.55">E</text>
<text transform="translate(249.20,183.90) rotate(-45) scale(0.895,1)" font-size="8.4" text-anchor="start" fill="#2a2a2a" stroke="#2a2a2a" stroke-width="0.3">SHC002</text>
<text transform="translate(265.30,183.40) rotate(-45) scale(0.821,1)" font-size="8.4" text-anchor="start" fill="#2a2a2a" stroke="#2a2a2a" stroke-width="0.3">OCT2-sh1</text>
<rect x="242.50" y="186.50" width="32.00" height="15.00" fill="#bfbfbf"/>
<clipPath id="cp9"><rect x="242.50" y="186.50" width="32.00" height="15.00"/></clipPath>
<g clip-path="url(#cp9)">
<rect x="242.50" y="186.50" width="32.00" height="15.00" fill="none" stroke="#fff" stroke-opacity="0.3" stroke-width="2.4" filter="url(#b0)"/>
<rect x="244.10" y="190.80" width="13.20" height="6.30" rx="2.12" fill="#000" filter="url(#b1)"/>
<rect x="259.60" y="191.70" width="12.80" height="4.00" rx="1.23" fill="#5a5a5a" filter="url(#b1)"/>
</g>
<rect x="242.50" y="186.50" width="32.00" height="15.00" fill="none" stroke="#5a5a5a" stroke-width="1"/>
<rect x="242.50" y="211.50" width="32.00" height="19.00" fill="#b9b9b9"/>
<clipPath id="cp10"><rect x="242.50" y="211.50" width="32.00" height="19.00"/></clipPath>
<g clip-path="url(#cp10)">
<rect x="242.50" y="211.50" width="32.00" height="19.00" fill="none" stroke="#fff" stroke-opacity="0.3" stroke-width="2.4" filter="url(#b0)"/>
<rect x="243.40" y="212.90" width="14.00" height="4.20" rx="1.31" fill="#101010" filter="url(#b1)"/>
<rect x="257.60" y="212.30" width="15.80" height="6.00" rx="2.00" fill="#000" filter="url(#b1)"/>
<rect x="243.40" y="220.30" width="14.00" height="3.60" rx="1.08" fill="#3a3a3a" filter="url(#b1)"/>
<rect x="257.60" y="220.30" width="15.80" height="3.60" rx="1.08" fill="#404040" filter="url(#b1)"/>
</g>
<rect x="242.50" y="211.50" width="32.00" height="19.00" fill="none" stroke="#5a5a5a" stroke-width="1"/>
<rect x="242.50" y="239.50" width="32.00" height="12.00" fill="#c2c2c2"/>
<clipPath id="cp11"><rect x="242.50" y="239.50" width="32.00" height="12.00"/></clipPath>
<g clip-path="url(#cp11)">
<rect x="242.50" y="239.50" width="32.00" height="12.00" fill="none" stroke="#fff" stroke-opacity="0.3" stroke-width="2.4" filter="url(#b0)"/>
<rect x="243.10" y="242.60" width="14.30" height="4.60" rx="1.46" fill="#0e0e0e" filter="url(#b1)"/>
<rect x="258.10" y="242.40" width="15.30" height="4.70" rx="1.50" fill="#0e0e0e" filter="url(#b1)"/>
</g>
<rect x="242.50" y="239.50" width="32.00" height="12.00" fill="none" stroke="#5a5a5a" stroke-width="1"/>
<text transform="translate(277.50,197.80) scale(0.817,1)" font-size="8.4" text-anchor="start" fill="#2a2a2a" stroke="#2a2a2a" stroke-width="0.2">OCT2</text>
<text transform="translate(277.50,215.80) scale(0.831,1)" font-size="8.4" text-anchor="start" fill="#2a2a2a" stroke="#2a2a2a" stroke-width="0.2">OBF1-AviF</text>
<text transform="translate(277.50,223.30) scale(0.861,1)" font-size="8.4" text-anchor="start" fill="#2a2a2a" stroke="#2a2a2a" stroke-width="0.2">endogenous</text>
<text transform="translate(277.50,231.50) scale(0.807,1)" font-size="8.4" text-anchor="start" fill="#2a2a2a" stroke="#2a2a2a" stroke-width="0.2">OBF1</text>
<text transform="translate(277.50,247.80) scale(0.884,1)" font-size="8.4" text-anchor="start" fill="#2a2a2a" stroke="#2a2a2a" stroke-width="0.2">Actin</text>
<line x1="359.90" y1="156.10" x2="359.90" y2="244.60" stroke="#1a1a1a" stroke-width="1.6"/>
<line x1="359.10" y1="243.80" x2="461.75" y2="243.80" stroke="#1a1a1a" stroke-width="1.6"/>
<line x1="356.70" y1="243.00" x2="359.90" y2="243.00" stroke="#1a1a1a" stroke-width="1"/>
<text transform="translate(353.00,245.81)" font-size="7.8" text-anchor="end" fill="#2a2a2a" stroke="#2a2a2a" stroke-width="0.3">0</text>
<line x1="356.70" y1="215.00" x2="359.90" y2="215.00" stroke="#1a1a1a" stroke-width="1"/>
<text transform="translate(353.00,217.81)" font-size="7.8" text-anchor="end" fill="#2a2a2a" stroke="#2a2a2a" stroke-width="0.3">5</text>
<line x1="356.70" y1="187.00" x2="359.90" y2="187.00" stroke="#1a1a1a" stroke-width="1"/>
<text transform="translate(353.00,189.81)" font-size="7.8" text-anchor="end" fill="#2a2a2a" stroke="#2a2a2a" stroke-width="0.3">10</text>
<line x1="356.70" y1="159.00" x2="359.90" y2="159.00" stroke="#1a1a1a" stroke-width="1"/>
<text transform="translate(353.00,161.81)" font-size="7.8" text-anchor="end" fill="#2a2a2a" stroke="#2a2a2a" stroke-width="0.3">15</text>
<line x1="372.00" y1="243.80" x2="372.00" y2="247.20" stroke="#1a1a1a" stroke-width="1"/>
<line x1="400.25" y1="243.80" x2="400.25" y2="247.20" stroke="#1a1a1a" stroke-width="1"/>
<line x1="428.50" y1="243.80" x2="428.50" y2="247.20" stroke="#1a1a1a" stroke-width="1"/>
<line x1="456.50" y1="243.80" x2="456.50" y2="247.20" stroke="#1a1a1a" stroke-width="1"/>
<polyline points="372.00,242.44 400.25,241.32 428.50,233.48 456.50,193.72" fill="none" stroke="#b2062f" stroke-width="1.3" stroke-linejoin="round"/>
<circle cx="372.00" cy="242.44" r="1.9" fill="#b2062f"/>
<circle cx="400.25" cy="241.32" r="1.9" fill="#b2062f"/>
<line x1="428.50" y1="232.92" x2="428.50" y2="234.04" stroke="#b2062f" stroke-width="1"/>
<line x1="427.00" y1="232.92" x2="430.00" y2="232.92" stroke="#b2062f" stroke-width="1"/>
<line x1="427.00" y1="234.04" x2="430.00" y2="234.04" stroke="#b2062f" stroke-width="1"/>
<circle cx="428.50" cy="233.48" r="1.9" fill="#b2062f"/>
<line x1="456.50" y1="190.36" x2="456.50" y2="197.08" stroke="#b2062f" stroke-width="1"/>
<line x1="455.00" y1="190.36" x2="458.00" y2="190.36" stroke="#b2062f" stroke-width="1"/>
<line x1="455.00" y1="197.08" x2="458.00" y2="197.08" stroke="#b2062f" stroke-width="1"/>
<circle cx="456.50" cy="193.72" r="1.9" fill="#b2062f"/>
<polyline points="372.00,242.44 400.25,241.60 428.50,235.16 456.50,184.76" fill="none" stroke="#4a1462" stroke-width="1.3" stroke-linejoin="round"/>
<rect x="370.85" y="241.29" width="2.30" height="2.30" fill="#4a1462"/>
<rect x="399.10" y="240.45" width="2.30" height="2.30" fill="#4a1462"/>
<line x1="428.50" y1="234.60" x2="428.50" y2="235.72" stroke="#4a1462" stroke-width="1"/>
<line x1="427.00" y1="234.60" x2="430.00" y2="234.60" stroke="#4a1462" stroke-width="1"/>
<line x1="427.00" y1="235.72" x2="430.00" y2="235.72" stroke="#4a1462" stroke-width="1"/>
<rect x="427.35" y="234.01" width="2.30" height="2.30" fill="#4a1462"/>
<line x1="456.50" y1="171.32" x2="456.50" y2="198.20" stroke="#4a1462" stroke-width="1"/>
<line x1="455.00" y1="171.32" x2="458.00" y2="171.32" stroke="#4a1462" stroke-width="1"/>
<line x1="455.00" y1="198.20" x2="458.00" y2="198.20" stroke="#4a1462" stroke-width="1"/>
<rect x="455.35" y="183.61" width="2.30" height="2.30" fill="#4a1462"/>
<text transform="translate(339.58,203.00) rotate(-90) scale(0.837,1)" font-size="9.2" text-anchor="middle" fill="#2a2a2a" stroke="#2a2a2a" stroke-width="0.26">Cell number (10<tspan font-size="5.70" dy="-3.86">6</tspan><tspan dy="3.86">)</tspan></text>
<line x1="366.20" y1="162.50" x2="373.80" y2="162.50" stroke="#b2062f" stroke-width="1.2"/>
<circle cx="370.00" cy="162.50" r="2.0" fill="#b2062f"/>
<text transform="translate(377.50,164.95) scale(0.824,1)" font-size="6.8" text-anchor="start" fill="#333" stroke="#333" stroke-width="0.2">Raji-SHC002</text>
<line x1="366.20" y1="171.75" x2="373.80" y2="171.75" stroke="#4a1462" stroke-width="1.2"/>
<rect x="368.00" y="169.75" width="4.00" height="4.00" fill="#4a1462"/>
<text transform="translate(377.50,174.20) scale(0.824,1)" font-size="6.8" text-anchor="start" fill="#333" stroke="#333" stroke-width="0.2">Raji-OCT2sh1</text>
<text transform="translate(437.50,177.80)" font-size="6" text-anchor="middle" fill="#2a2a2a" stroke="#2a2a2a" stroke-width="0.3">n.s.</text>
<text transform="translate(438.75,185.20) scale(0.900,1)" font-size="6.6" text-anchor="middle" fill="#2a2a2a" stroke="#2a2a2a" stroke-width="0.22"><tspan font-style="italic">P</tspan> = 0.40001</text>
<text transform="translate(415.00,221.50)" font-size="6" text-anchor="middle" fill="#2a2a2a" stroke="#2a2a2a" stroke-width="0.3">n.s.</text>
<text transform="translate(415.00,228.40) scale(0.900,1)" font-size="6.6" text-anchor="middle" fill="#2a2a2a" stroke="#2a2a2a" stroke-width="0.22"><tspan font-style="italic">P</tspan> = 0.19236</text>
<text transform="translate(385.00,230.00)" font-size="6" text-anchor="middle" fill="#2a2a2a" stroke="#2a2a2a" stroke-width="0.3">n.s.</text>
<text transform="translate(385.00,237.20) scale(0.900,1)" font-size="6.6" text-anchor="middle" fill="#2a2a2a" stroke="#2a2a2a" stroke-width="0.22"><tspan font-style="italic">P</tspan> = 0.13871</text>
<text transform="translate(372.00,256.00) scale(0.940,1)" font-size="7.2" text-anchor="middle" fill="#2a2a2a" stroke="#2a2a2a" stroke-width="0.26">Day 1</text>
<text transform="translate(400.25,256.00) scale(0.940,1)" font-size="7.2" text-anchor="middle" fill="#2a2a2a" stroke="#2a2a2a" stroke-width="0.26">Day 3</text>
<text transform="translate(428.50,256.00) scale(0.940,1)" font-size="7.2" text-anchor="middle" fill="#2a2a2a" stroke="#2a2a2a" stroke-width="0.26">Day 5</text>
<text transform="translate(456.50,256.00) scale(0.940,1)" font-size="7.2" text-anchor="middle" fill="#2a2a2a" stroke="#2a2a2a" stroke-width="0.26">Day 7</text>
<text transform="translate(243.20,284.80) scale(0.900,1)" font-size="13" text-anchor="start" fill="#000" font-weight="bold" stroke="#000" stroke-width="0.55">F</text>
<text transform="translate(251.20,324.90) rotate(-45) scale(0.844,1)" font-size="8.4" text-anchor="start" fill="#2a2a2a" stroke="#2a2a2a" stroke-width="0.3">SHC002</text>
<text transform="translate(267.10,324.40) rotate(-45) scale(0.818,1)" font-size="8.4" text-anchor="start" fill="#2a2a2a" stroke="#2a2a2a" stroke-width="0.3">OBF1-sh1</text>
<rect x="242.50" y="327.50" width="31.00" height="15.00" fill="#d2d2d2"/>
<clipPath id="cp12"><rect x="242.50" y="327.50" width="31.00" height="15.00"/></clipPath>
<g clip-path="url(#cp12)">
<rect x="242.50" y="327.50" width="31.00" height="15.00" fill="none" stroke="#fff" stroke-opacity="0.3" stroke-width="2.4" filter="url(#b0)"/>
<rect x="244.90" y="333.00" width="10.10" height="4.10" rx="1.27" fill="#4a4a4a" filter="url(#b1)"/>
<rect x="257.60" y="333.10" width="13.80" height="3.80" rx="1.15" fill="#c4c4c4" filter="url(#b1)"/>
</g>
<rect x="242.50" y="327.50" width="31.00" height="15.00" fill="none" stroke="#5a5a5a" stroke-width="1"/>
<rect x="242.50" y="348.50" width="31.00" height="13.00" fill="#d2d2d2"/>
<clipPath id="cp13"><rect x="242.50" y="348.50" width="31.00" height="13.00"/></clipPath>
<g clip-path="url(#cp13)">
<rect x="242.50" y="348.50" width="31.00" height="13.00" fill="none" stroke="#fff" stroke-opacity="0.3" stroke-width="2.4" filter="url(#b0)"/>
<rect x="244.60" y="353.70" width="11.80" height="3.70" rx="1.12" fill="#000" filter="url(#b1)"/>
<rect x="259.90" y="354.20" width="12.80" height="3.00" rx="0.85" fill="#6a6a6a" filter="url(#b1)"/>
</g>
<rect x="242.50" y="348.50" width="31.00" height="13.00" fill="none" stroke="#5a5a5a" stroke-width="1"/>
<rect x="242.50" y="367.50" width="31.00" height="14.00" fill="#d0d0d0"/>
<clipPath id="cp14"><rect x="242.50" y="367.50" width="31.00" height="14.00"/></clipPath>
<g clip-path="url(#cp14)">
<rect x="242.50" y="367.50" width="31.00" height="14.00" fill="none" stroke="#fff" stroke-opacity="0.3" stroke-width="2.4" filter="url(#b0)"/>
<rect x="243.60" y="370.10" width="12.80" height="6.10" rx="2.04" fill="#000" filter="url(#b1)"/>
<rect x="258.30" y="370.10" width="13.80" height="6.10" rx="2.04" fill="#000" filter="url(#b1)"/>
</g>
<rect x="242.50" y="367.50" width="31.00" height="14.00" fill="none" stroke="#5a5a5a" stroke-width="1"/>
<text transform="translate(277.50,338.30) scale(0.807,1)" font-size="8.4" text-anchor="start" fill="#2a2a2a" stroke="#2a2a2a" stroke-width="0.2">OBF1</text>
<text transform="translate(277.50,358.30) scale(0.819,1)" font-size="8.4" text-anchor="start" fill="#2a2a2a" stroke="#2a2a2a" stroke-width="0.2">BCL6</text>
<text transform="translate(277.50,376.00) scale(0.890,1)" font-size="8.4" text-anchor="start" fill="#2a2a2a" stroke="#2a2a2a" stroke-width="0.2">MCM7</text>
<line x1="359.90" y1="313.40" x2="359.90" y2="376.95" stroke="#1a1a1a" stroke-width="1.5"/>
<line x1="359.15" y1="376.20" x2="403.25" y2="376.20" stroke="#1a1a1a" stroke-width="1.5"/>
<line x1="356.60" y1="376.25" x2="359.90" y2="376.25" stroke="#1a1a1a" stroke-width="1"/>
<text transform="translate(353.30,379.06)" font-size="7.8" text-anchor="end" fill="#2a2a2a" stroke="#2a2a2a" stroke-width="0.3">0</text>
<line x1="356.60" y1="346.25" x2="359.90" y2="346.25" stroke="#1a1a1a" stroke-width="1"/>
<text transform="translate(353.30,349.06)" font-size="7.8" text-anchor="end" fill="#2a2a2a" stroke="#2a2a2a" stroke-width="0.3">50</text>
<line x1="356.60" y1="316.25" x2="359.90" y2="316.25" stroke="#1a1a1a" stroke-width="1"/>
<text transform="translate(353.30,319.06)" font-size="7.8" text-anchor="end" fill="#2a2a2a" stroke="#2a2a2a" stroke-width="0.3">100</text>
<rect x="370.00" y="317.45" width="9.50" height="58.00" fill="#c6c5cb"/>
<rect x="387.00" y="371.75" width="9.25" height="3.70" fill="#b0661a"/>
<line x1="391.62" y1="371.75" x2="391.62" y2="370.85" stroke="#1a1a1a" stroke-width="1"/>
<line x1="388.93" y1="370.85" x2="394.32" y2="370.85" stroke="#1a1a1a" stroke-width="1"/>
<line x1="432.00" y1="313.25" x2="432.00" y2="377.00" stroke="#1a1a1a" stroke-width="1.5"/>
<line x1="431.25" y1="376.25" x2="475.00" y2="376.25" stroke="#1a1a1a" stroke-width="1.5"/>
<line x1="428.70" y1="376.25" x2="432.00" y2="376.25" stroke="#1a1a1a" stroke-width="1"/>
<text transform="translate(425.40,379.06)" font-size="7.8" text-anchor="end" fill="#2a2a2a" stroke="#2a2a2a" stroke-width="0.3">0</text>
<line x1="428.70" y1="346.25" x2="432.00" y2="346.25" stroke="#1a1a1a" stroke-width="1"/>
<text transform="translate(425.40,349.06)" font-size="7.8" text-anchor="end" fill="#2a2a2a" stroke="#2a2a2a" stroke-width="0.3">50</text>
<line x1="428.70" y1="316.25" x2="432.00" y2="316.25" stroke="#1a1a1a" stroke-width="1"/>
<text transform="translate(425.40,319.06)" font-size="7.8" text-anchor="end" fill="#2a2a2a" stroke="#2a2a2a" stroke-width="0.3">100</text>
<rect x="442.50" y="318.05" width="9.50" height="57.45" fill="#c6c5cb"/>
<rect x="459.25" y="372.05" width="9.50" height="3.45" fill="#b0661a"/>
<line x1="464.00" y1="372.05" x2="464.00" y2="371.15" stroke="#1a1a1a" stroke-width="1"/>
<line x1="461.30" y1="371.15" x2="466.70" y2="371.15" stroke="#1a1a1a" stroke-width="1"/>
<text transform="translate(381.30,307.10) scale(0.970,1)" font-size="9" text-anchor="middle" fill="#2a2a2a" stroke="#2a2a2a" stroke-width="0.3">OBF1</text>
<text transform="translate(453.75,307.10) scale(0.970,1)" font-size="9" text-anchor="middle" fill="#2a2a2a" stroke="#2a2a2a" stroke-width="0.3">BCL6</text>
<text transform="translate(336.78,345.70) rotate(-90) scale(0.751,1)" font-size="9.2" text-anchor="middle" fill="#2a2a2a" stroke="#2a2a2a" stroke-width="0.26">Expression level %</text>
<circle cx="388.07" cy="325.90" r="0.8" fill="#1e1e1e"/>
<circle cx="390.52" cy="325.90" r="0.8" fill="#1e1e1e"/>
<circle cx="392.97" cy="325.90" r="0.8" fill="#1e1e1e"/>
<circle cx="395.43" cy="325.90" r="0.8" fill="#1e1e1e"/>
<circle cx="460.07" cy="325.90" r="0.8" fill="#1e1e1e"/>
<circle cx="462.52" cy="325.90" r="0.8" fill="#1e1e1e"/>
<circle cx="464.97" cy="325.90" r="0.8" fill="#1e1e1e"/>
<circle cx="467.43" cy="325.90" r="0.8" fill="#1e1e1e"/>
<text transform="translate(394.10,350.30) rotate(-90) scale(0.858,1)" font-size="6.8" text-anchor="middle" fill="#2a2a2a" stroke="#2a2a2a" stroke-width="0.12"><tspan font-style="italic">P</tspan>=4.22x10<tspan font-size="4.22" dy="-2.72">-11</tspan></text>
<text transform="translate(466.10,350.30) rotate(-90) scale(0.858,1)" font-size="6.8" text-anchor="middle" fill="#2a2a2a" stroke="#2a2a2a" stroke-width="0.12"><tspan font-style="italic">P</tspan>=1.61x10<tspan font-size="4.22" dy="-2.72">-11</tspan></text>
<text transform="translate(378.00,384.50) rotate(-45) scale(0.850,1)" font-size="7.8" text-anchor="end" fill="#2a2a2a" stroke="#2a2a2a" stroke-width="0.3">SHC002</text>
<text transform="translate(394.50,385.00) rotate(-45) scale(0.840,1)" font-size="7.8" text-anchor="end" fill="#2a2a2a" stroke="#2a2a2a" stroke-width="0.3">OBF1-sh1</text>
<text transform="translate(8.20,433.80) scale(0.900,1)" font-size="13" text-anchor="start" fill="#000" font-weight="bold" stroke="#000" stroke-width="0.55">G</text>
<line x1="38.30" y1="466.00" x2="38.30" y2="529.75" stroke="#1a1a1a" stroke-width="1.5"/>
<line x1="37.55" y1="529.00" x2="99.00" y2="529.00" stroke="#1a1a1a" stroke-width="1.5"/>
<line x1="35.00" y1="529.00" x2="38.30" y2="529.00" stroke="#1a1a1a" stroke-width="1"/>
<text transform="translate(31.70,531.81)" font-size="7.8" text-anchor="end" fill="#2a2a2a" stroke="#2a2a2a" stroke-width="0.3">0</text>
<line x1="35.00" y1="498.40" x2="38.30" y2="498.40" stroke="#1a1a1a" stroke-width="1"/>
<text transform="translate(31.70,501.21)" font-size="7.8" text-anchor="end" fill="#2a2a2a" stroke="#2a2a2a" stroke-width="0.3">0.5</text>
<line x1="35.00" y1="467.80" x2="38.30" y2="467.80" stroke="#1a1a1a" stroke-width="1"/>
<text transform="translate(31.70,470.61)" font-size="7.8" text-anchor="end" fill="#2a2a2a" stroke="#2a2a2a" stroke-width="0.3">1.0</text>
<rect x="49.10" y="468.41" width="8.80" height="59.84" fill="#c6c5cb"/>
<rect x="66.30" y="510.03" width="9.10" height="18.22" fill="#c4087a"/>
<line x1="70.85" y1="510.03" x2="70.85" y2="507.46" stroke="#1a1a1a" stroke-width="1"/>
<line x1="67.85" y1="507.46" x2="73.85" y2="507.46" stroke="#1a1a1a" stroke-width="1"/>
<rect x="83.30" y="511.13" width="9.40" height="17.12" fill="#263f7c"/>
<line x1="88.00" y1="511.13" x2="88.00" y2="508.25" stroke="#1a1a1a" stroke-width="1"/>
<line x1="85.00" y1="508.25" x2="91.00" y2="508.25" stroke="#1a1a1a" stroke-width="1"/>
<line x1="123.10" y1="465.50" x2="123.10" y2="529.55" stroke="#1a1a1a" stroke-width="1.5"/>
<line x1="122.35" y1="528.80" x2="183.40" y2="528.80" stroke="#1a1a1a" stroke-width="1.5"/>
<line x1="119.80" y1="528.80" x2="123.10" y2="528.80" stroke="#1a1a1a" stroke-width="1"/>
<text transform="translate(116.50,531.61)" font-size="7.8" text-anchor="end" fill="#2a2a2a" stroke="#2a2a2a" stroke-width="0.3">0</text>
<line x1="119.80" y1="513.60" x2="123.10" y2="513.60" stroke="#1a1a1a" stroke-width="1"/>
<text transform="translate(116.50,516.41)" font-size="7.8" text-anchor="end" fill="#2a2a2a" stroke="#2a2a2a" stroke-width="0.3">5</text>
<line x1="119.80" y1="498.40" x2="123.10" y2="498.40" stroke="#1a1a1a" stroke-width="1"/>
<text transform="translate(116.50,501.21)" font-size="7.8" text-anchor="end" fill="#2a2a2a" stroke="#2a2a2a" stroke-width="0.3">10</text>
<line x1="119.80" y1="483.20" x2="123.10" y2="483.20" stroke="#1a1a1a" stroke-width="1"/>
<text transform="translate(116.50,486.01)" font-size="7.8" text-anchor="end" fill="#2a2a2a" stroke="#2a2a2a" stroke-width="0.3">15</text>
<line x1="119.80" y1="468.00" x2="123.10" y2="468.00" stroke="#1a1a1a" stroke-width="1"/>
<text transform="translate(116.50,470.81)" font-size="7.8" text-anchor="end" fill="#2a2a2a" stroke="#2a2a2a" stroke-width="0.3">20</text>
<rect x="134.10" y="526.37" width="10.00" height="1.68" fill="#c6c5cb"/>
<rect x="151.10" y="486.85" width="10.00" height="41.20" fill="#c4087a"/>
<line x1="156.10" y1="486.85" x2="156.10" y2="479.04" stroke="#1a1a1a" stroke-width="1"/>
<line x1="153.40" y1="479.04" x2="158.80" y2="479.04" stroke="#1a1a1a" stroke-width="1"/>
<rect x="169.00" y="521.99" width="9.20" height="6.06" fill="#263f7c"/>
<line x1="173.60" y1="521.99" x2="173.60" y2="520.50" stroke="#1a1a1a" stroke-width="1"/>
<line x1="170.90" y1="520.50" x2="176.30" y2="520.50" stroke="#1a1a1a" stroke-width="1"/>
<text transform="translate(67.90,459.30)" font-size="9.3" text-anchor="middle" fill="#2a2a2a" stroke="#2a2a2a" stroke-width="0.3">OBF1</text>
<text transform="translate(153.95,459.30) scale(0.920,1)" font-size="9.3" text-anchor="middle" fill="#2a2a2a" stroke="#2a2a2a" stroke-width="0.3">IRF4</text>
<text transform="translate(14.98,497.00) rotate(-90) scale(0.791,1)" font-size="9.2" text-anchor="middle" fill="#2a2a2a" stroke="#2a2a2a" stroke-width="0.26">Expression level</text>
<circle cx="66.20" cy="464.90" r="0.8" fill="#1e1e1e"/>
<circle cx="69.20" cy="464.90" r="0.8" fill="#1e1e1e"/>
<circle cx="72.20" cy="464.90" r="0.8" fill="#1e1e1e"/>
<circle cx="75.20" cy="464.90" r="0.8" fill="#1e1e1e"/>
<circle cx="83.50" cy="464.90" r="0.8" fill="#1e1e1e"/>
<circle cx="86.50" cy="464.90" r="0.8" fill="#1e1e1e"/>
<circle cx="89.50" cy="464.90" r="0.8" fill="#1e1e1e"/>
<circle cx="92.50" cy="464.90" r="0.8" fill="#1e1e1e"/>
<text transform="translate(73.20,486.80) rotate(-90) scale(0.947,1)" font-size="6.4" text-anchor="middle" fill="#2a2a2a" stroke="#2a2a2a" stroke-width="0.12"><tspan font-style="italic">p</tspan> = 7.70x10<tspan font-size="3.97" dy="-2.56">-4</tspan></text>
<text transform="translate(90.00,487.30) rotate(-90) scale(0.947,1)" font-size="6.4" text-anchor="middle" fill="#2a2a2a" stroke="#2a2a2a" stroke-width="0.12"><tspan font-style="italic">p</tspan> = 9.03x10<tspan font-size="3.97" dy="-2.56">-4</tspan></text>
<circle cx="152.20" cy="491.20" r="0.8" fill="#1a0010"/>
<circle cx="155.00" cy="491.20" r="0.8" fill="#1a0010"/>
<circle cx="157.80" cy="491.20" r="0.8" fill="#1a0010"/>
<circle cx="160.60" cy="491.20" r="0.8" fill="#1a0010"/>
<text transform="translate(159.00,510.00) rotate(-90) scale(0.942,1)" font-size="6.4" text-anchor="middle" fill="#1a0010" stroke="#1a0010" stroke-width="0.12"><tspan font-style="italic">p</tspan> = 0.00006</text>
<circle cx="168.90" cy="480.00" r="0.8" fill="#1e1e1e"/>
<circle cx="171.90" cy="480.00" r="0.8" fill="#1e1e1e"/>
<circle cx="174.90" cy="480.00" r="0.8" fill="#1e1e1e"/>
<circle cx="177.90" cy="480.00" r="0.8" fill="#1e1e1e"/>
<text transform="translate(175.00,501.20) rotate(-90) scale(0.933,1)" font-size="6.4" text-anchor="middle" fill="#2a2a2a" stroke="#2a2a2a" stroke-width="0.12"><tspan font-style="italic">p</tspan> = 0.00079</text>
<text transform="translate(57.00,536.60) rotate(-45) scale(0.870,1)" font-size="8.0" text-anchor="end" fill="#2a2a2a" stroke="#2a2a2a" stroke-width="0.3">SHC002</text>
<text transform="translate(74.00,536.60) rotate(-45) scale(0.870,1)" font-size="8.0" text-anchor="end" fill="#2a2a2a" stroke="#2a2a2a" stroke-width="0.3">OBF1-sh1 SHC002</text>
<text transform="translate(90.50,536.60) rotate(-45) scale(0.870,1)" font-size="8.0" text-anchor="end" fill="#2a2a2a" stroke="#2a2a2a" stroke-width="0.3">IRF4-sh1 OBF1-sh1</text>
<text transform="translate(142.00,536.60) rotate(-45) scale(0.870,1)" font-size="8.0" text-anchor="end" fill="#2a2a2a" stroke="#2a2a2a" stroke-width="0.3">SHC002</text>
<text transform="translate(159.50,536.60) rotate(-45) scale(0.870,1)" font-size="8.0" text-anchor="end" fill="#2a2a2a" stroke="#2a2a2a" stroke-width="0.3">OBF1-sh1 SHC002</text>
<text transform="translate(177.00,536.60) rotate(-45) scale(0.870,1)" font-size="8.0" text-anchor="end" fill="#2a2a2a" stroke="#2a2a2a" stroke-width="0.3">IRF4-sh1 OBF1-sh1</text>
<text transform="translate(201.80,434.20) scale(0.900,1)" font-size="13" text-anchor="start" fill="#000" font-weight="bold" stroke="#000" stroke-width="0.55">H</text>
<line x1="215.50" y1="442.20" x2="215.50" y2="530.50" stroke="#1a1a1a" stroke-width="1.6"/>
<line x1="214.70" y1="529.70" x2="322.40" y2="529.70" stroke="#1a1a1a" stroke-width="1.6"/>
<line x1="212.30" y1="528.90" x2="215.50" y2="528.90" stroke="#1a1a1a" stroke-width="1"/>
<text transform="translate(208.60,531.67)" font-size="7.7" text-anchor="end" fill="#2a2a2a" stroke="#2a2a2a" stroke-width="0.3">0</text>
<line x1="212.30" y1="500.90" x2="215.50" y2="500.90" stroke="#1a1a1a" stroke-width="1"/>
<text transform="translate(208.60,503.67)" font-size="7.7" text-anchor="end" fill="#2a2a2a" stroke="#2a2a2a" stroke-width="0.3">20</text>
<line x1="212.30" y1="472.90" x2="215.50" y2="472.90" stroke="#1a1a1a" stroke-width="1"/>
<text transform="translate(208.60,475.67)" font-size="7.7" text-anchor="end" fill="#2a2a2a" stroke="#2a2a2a" stroke-width="0.3">40</text>
<line x1="212.30" y1="444.90" x2="215.50" y2="444.90" stroke="#1a1a1a" stroke-width="1"/>
<text transform="translate(208.60,447.67)" font-size="7.7" text-anchor="end" fill="#2a2a2a" stroke="#2a2a2a" stroke-width="0.3">60</text>
<line x1="229.70" y1="529.70" x2="229.70" y2="533.10" stroke="#1a1a1a" stroke-width="1"/>
<line x1="257.60" y1="529.70" x2="257.60" y2="533.10" stroke="#1a1a1a" stroke-width="1"/>
<line x1="285.60" y1="529.70" x2="285.60" y2="533.10" stroke="#1a1a1a" stroke-width="1"/>
<line x1="313.90" y1="529.70" x2="313.90" y2="533.10" stroke="#1a1a1a" stroke-width="1"/>
<polyline points="229.70,528.90 257.60,528.48 285.60,526.80 313.90,521.20" fill="none" stroke="#c4087a" stroke-width="1.3" stroke-linejoin="round"/>
<path d="M229.70,526.62 L231.79,530.42 L227.61,530.42Z" fill="#c4087a"/>
<path d="M257.60,526.20 L259.69,530.00 L255.51,530.00Z" fill="#c4087a"/>
<line x1="285.60" y1="526.38" x2="285.60" y2="527.22" stroke="#c4087a" stroke-width="1"/>
<line x1="284.10" y1="526.38" x2="287.10" y2="526.38" stroke="#c4087a" stroke-width="1"/>
<line x1="284.10" y1="527.22" x2="287.10" y2="527.22" stroke="#c4087a" stroke-width="1"/>
<path d="M285.60,524.52 L287.69,528.32 L283.51,528.32Z" fill="#c4087a"/>
<line x1="313.90" y1="519.80" x2="313.90" y2="522.60" stroke="#c4087a" stroke-width="1"/>
<line x1="312.40" y1="519.80" x2="315.40" y2="519.80" stroke="#c4087a" stroke-width="1"/>
<line x1="312.40" y1="522.60" x2="315.40" y2="522.60" stroke="#c4087a" stroke-width="1"/>
<path d="M313.90,518.92 L315.99,522.72 L311.81,522.72Z" fill="#c4087a"/>
<polyline points="229.70,528.90 257.60,527.78 285.60,519.80 313.90,484.80" fill="none" stroke="#263f7c" stroke-width="1.3" stroke-linejoin="round"/>
<path d="M229.70,531.18 L231.79,527.38 L227.61,527.38Z" fill="#263f7c"/>
<path d="M257.60,530.06 L259.69,526.26 L255.51,526.26Z" fill="#263f7c"/>
<line x1="285.60" y1="519.10" x2="285.60" y2="520.50" stroke="#263f7c" stroke-width="1"/>
<line x1="284.10" y1="519.10" x2="287.10" y2="519.10" stroke="#263f7c" stroke-width="1"/>
<line x1="284.10" y1="520.50" x2="287.10" y2="520.50" stroke="#263f7c" stroke-width="1"/>
<path d="M285.60,522.08 L287.69,518.28 L283.51,518.28Z" fill="#263f7c"/>
<line x1="313.90" y1="482.28" x2="313.90" y2="487.32" stroke="#263f7c" stroke-width="1"/>
<line x1="312.40" y1="482.28" x2="315.40" y2="482.28" stroke="#263f7c" stroke-width="1"/>
<line x1="312.40" y1="487.32" x2="315.40" y2="487.32" stroke="#263f7c" stroke-width="1"/>
<path d="M313.90,487.08 L315.99,483.28 L311.81,483.28Z" fill="#263f7c"/>
<polyline points="229.70,528.90 257.60,527.50 285.60,514.90 313.90,460.72" fill="none" stroke="#b2062f" stroke-width="1.3" stroke-linejoin="round"/>
<circle cx="229.70" cy="528.90" r="1.9" fill="#b2062f"/>
<circle cx="257.60" cy="527.50" r="1.9" fill="#b2062f"/>
<line x1="285.60" y1="514.20" x2="285.60" y2="515.60" stroke="#b2062f" stroke-width="1"/>
<line x1="284.10" y1="514.20" x2="287.10" y2="514.20" stroke="#b2062f" stroke-width="1"/>
<line x1="284.10" y1="515.60" x2="287.10" y2="515.60" stroke="#b2062f" stroke-width="1"/>
<circle cx="285.60" cy="514.90" r="1.9" fill="#b2062f"/>
<line x1="313.90" y1="458.27" x2="313.90" y2="463.17" stroke="#b2062f" stroke-width="1"/>
<line x1="312.40" y1="458.27" x2="315.40" y2="458.27" stroke="#b2062f" stroke-width="1"/>
<line x1="312.40" y1="463.17" x2="315.40" y2="463.17" stroke="#b2062f" stroke-width="1"/>
<circle cx="313.90" cy="460.72" r="1.9" fill="#b2062f"/>
<line x1="222.20" y1="448.10" x2="229.80" y2="448.10" stroke="#b2062f" stroke-width="1.2"/>
<circle cx="226.00" cy="448.10" r="2.0" fill="#b2062f"/>
<text transform="translate(233.40,450.48) scale(0.864,1)" font-size="6.6" text-anchor="start" fill="#333" stroke="#333" stroke-width="0.2">Raji-SHC002</text>
<line x1="222.20" y1="457.60" x2="229.80" y2="457.60" stroke="#c4087a" stroke-width="1.2"/>
<path d="M226.00,455.20 L228.20,459.20 L223.80,459.20Z" fill="#c4087a"/>
<text transform="translate(233.40,459.98) scale(0.864,1)" font-size="6.6" text-anchor="start" fill="#333" stroke="#333" stroke-width="0.2">Raji-OBF1sh1-SHC002</text>
<line x1="222.20" y1="466.80" x2="229.80" y2="466.80" stroke="#263f7c" stroke-width="1.2"/>
<path d="M226.00,469.20 L228.20,465.20 L223.80,465.20Z" fill="#263f7c"/>
<text transform="translate(233.40,469.18) scale(0.864,1)" font-size="6.6" text-anchor="start" fill="#333" stroke="#333" stroke-width="0.2">Raji-OBF1sh1-IRF4sh1</text>
<circle cx="332.05" cy="471.90" r="0.8" fill="#1e1e1e"/>
<circle cx="334.50" cy="471.90" r="0.8" fill="#1e1e1e"/>
<circle cx="336.95" cy="471.90" r="0.8" fill="#1e1e1e"/>
<text transform="translate(318.80,482.50) scale(0.900,1)" font-size="6.6" text-anchor="start" fill="#2a2a2a" stroke="#2a2a2a" stroke-width="0.22"><tspan font-style="italic">P</tspan> = 0.00027</text>
<circle cx="303.05" cy="499.40" r="0.8" fill="#1e1e1e"/>
<circle cx="305.50" cy="499.40" r="0.8" fill="#1e1e1e"/>
<circle cx="307.95" cy="499.40" r="0.8" fill="#1e1e1e"/>
<text transform="translate(289.60,509.40) scale(0.900,1)" font-size="6.6" text-anchor="start" fill="#2a2a2a" stroke="#2a2a2a" stroke-width="0.22"><tspan font-style="italic">P</tspan> = 0.00027</text>
<circle cx="332.52" cy="510.00" r="0.8" fill="#1e1e1e"/>
<circle cx="334.97" cy="510.00" r="0.8" fill="#1e1e1e"/>
<circle cx="337.42" cy="510.00" r="0.8" fill="#1e1e1e"/>
<circle cx="339.88" cy="510.00" r="0.8" fill="#1e1e1e"/>
<text transform="translate(318.80,519.90) scale(0.900,1)" font-size="6.6" text-anchor="start" fill="#2a2a2a" stroke="#2a2a2a" stroke-width="0.22"><tspan font-style="italic">P</tspan> = 6.54x10<tspan font-size="4.09" dy="-2.64">-6</tspan></text>
<circle cx="291.82" cy="515.70" r="0.8" fill="#1e1e1e"/>
<circle cx="294.27" cy="515.70" r="0.8" fill="#1e1e1e"/>
<circle cx="296.72" cy="515.70" r="0.8" fill="#1e1e1e"/>
<circle cx="299.18" cy="515.70" r="0.8" fill="#1e1e1e"/>
<text transform="translate(279.50,525.90) scale(0.900,1)" font-size="6.6" text-anchor="start" fill="#2a2a2a" stroke="#2a2a2a" stroke-width="0.22"><tspan font-style="italic">P</tspan> = 0.00002</text>
<text transform="translate(229.70,541.60) scale(0.940,1)" font-size="7.2" text-anchor="middle" fill="#2a2a2a" stroke="#2a2a2a" stroke-width="0.26">Day 1</text>
<text transform="translate(257.60,541.60) scale(0.940,1)" font-size="7.2" text-anchor="middle" fill="#2a2a2a" stroke="#2a2a2a" stroke-width="0.26">Day 3</text>
<text transform="translate(285.60,541.60) scale(0.940,1)" font-size="7.2" text-anchor="middle" fill="#2a2a2a" stroke="#2a2a2a" stroke-width="0.26">Day 5</text>
<text transform="translate(313.90,541.60) scale(0.940,1)" font-size="7.2" text-anchor="middle" fill="#2a2a2a" stroke="#2a2a2a" stroke-width="0.26">Day 7</text>
<text transform="translate(371.10,433.70) scale(0.900,1)" font-size="13" text-anchor="start" fill="#000" font-weight="bold" stroke="#000" stroke-width="0.55">I</text>
<line x1="402.50" y1="453.10" x2="402.50" y2="530.30" stroke="#1a1a1a" stroke-width="1.6"/>
<line x1="401.70" y1="529.50" x2="512.40" y2="529.50" stroke="#1a1a1a" stroke-width="1.6"/>
<line x1="399.30" y1="528.70" x2="402.50" y2="528.70" stroke="#1a1a1a" stroke-width="1"/>
<text transform="translate(395.60,531.47)" font-size="7.7" text-anchor="end" fill="#2a2a2a" stroke="#2a2a2a" stroke-width="0.3">0</text>
<line x1="399.30" y1="504.56" x2="402.50" y2="504.56" stroke="#1a1a1a" stroke-width="1"/>
<text transform="translate(395.60,507.33)" font-size="7.7" text-anchor="end" fill="#2a2a2a" stroke="#2a2a2a" stroke-width="0.3">20</text>
<line x1="399.30" y1="480.42" x2="402.50" y2="480.42" stroke="#1a1a1a" stroke-width="1"/>
<text transform="translate(395.60,483.19)" font-size="7.7" text-anchor="end" fill="#2a2a2a" stroke="#2a2a2a" stroke-width="0.3">40</text>
<line x1="399.30" y1="456.28" x2="402.50" y2="456.28" stroke="#1a1a1a" stroke-width="1"/>
<text transform="translate(395.60,459.05)" font-size="7.7" text-anchor="end" fill="#2a2a2a" stroke="#2a2a2a" stroke-width="0.3">60</text>
<line x1="416.20" y1="529.50" x2="416.20" y2="532.90" stroke="#1a1a1a" stroke-width="1"/>
<line x1="443.20" y1="529.50" x2="443.20" y2="532.90" stroke="#1a1a1a" stroke-width="1"/>
<line x1="470.40" y1="529.50" x2="470.40" y2="532.90" stroke="#1a1a1a" stroke-width="1"/>
<line x1="497.90" y1="529.50" x2="497.90" y2="532.90" stroke="#1a1a1a" stroke-width="1"/>
<polyline points="416.20,528.70 443.20,527.49 470.40,519.65 497.90,466.90" fill="none" stroke="#b2062f" stroke-width="1.3" stroke-linejoin="round"/>
<circle cx="416.20" cy="528.70" r="1.9" fill="#b2062f"/>
<circle cx="443.20" cy="527.49" r="1.9" fill="#b2062f"/>
<circle cx="470.40" cy="519.65" r="1.9" fill="#b2062f"/>
<line x1="497.90" y1="464.97" x2="497.90" y2="468.83" stroke="#b2062f" stroke-width="1"/>
<line x1="496.40" y1="464.97" x2="499.40" y2="464.97" stroke="#b2062f" stroke-width="1"/>
<line x1="496.40" y1="468.83" x2="499.40" y2="468.83" stroke="#b2062f" stroke-width="1"/>
<circle cx="497.90" cy="466.90" r="1.9" fill="#b2062f"/>
<polyline points="416.20,528.70 443.20,528.10 470.40,525.08 497.90,504.32" fill="none" stroke="#b0661a" stroke-width="1.3" stroke-linejoin="round"/>
<rect x="414.30" y="526.80" width="3.80" height="3.80" fill="#b0661a"/>
<rect x="441.30" y="526.20" width="3.80" height="3.80" fill="#b0661a"/>
<rect x="468.50" y="523.18" width="3.80" height="3.80" fill="#b0661a"/>
<line x1="497.90" y1="503.11" x2="497.90" y2="505.53" stroke="#b0661a" stroke-width="1"/>
<line x1="496.40" y1="503.11" x2="499.40" y2="503.11" stroke="#b0661a" stroke-width="1"/>
<line x1="496.40" y1="505.53" x2="499.40" y2="505.53" stroke="#b0661a" stroke-width="1"/>
<rect x="496.00" y="502.42" width="3.80" height="3.80" fill="#b0661a"/>
<text transform="translate(381.18,490.80) rotate(-90) scale(0.851,1)" font-size="9.2" text-anchor="middle" fill="#2a2a2a" stroke="#2a2a2a" stroke-width="0.26">Cell number (10<tspan font-size="5.70" dy="-3.86">6</tspan><tspan dy="3.86">)</tspan></text>
<line x1="409.60" y1="459.60" x2="417.20" y2="459.60" stroke="#b2062f" stroke-width="1.2"/>
<circle cx="413.40" cy="459.60" r="2.0" fill="#b2062f"/>
<text transform="translate(420.30,462.05) scale(0.824,1)" font-size="6.8" text-anchor="start" fill="#333" stroke="#333" stroke-width="0.2">Raji-Ctrl</text>
<line x1="409.60" y1="468.80" x2="417.20" y2="468.80" stroke="#b0661a" stroke-width="1.2"/>
<rect x="411.40" y="466.80" width="4.00" height="4.00" fill="#b0661a"/>
<text transform="translate(420.30,471.25) scale(0.824,1)" font-size="6.8" text-anchor="start" fill="#333" stroke="#333" stroke-width="0.2">Raji-IRF4OE</text>
<circle cx="491.43" cy="452.50" r="0.8" fill="#1e1e1e"/>
<circle cx="493.88" cy="452.50" r="0.8" fill="#1e1e1e"/>
<circle cx="496.32" cy="452.50" r="0.8" fill="#1e1e1e"/>
<circle cx="498.78" cy="452.50" r="0.8" fill="#1e1e1e"/>
<text transform="translate(495.30,462.70) scale(0.900,1)" font-size="6.6" text-anchor="middle" fill="#2a2a2a" stroke="#2a2a2a" stroke-width="0.22"><tspan font-style="italic">P</tspan> = 0.00005</text>
<circle cx="459.35" cy="491.90" r="0.8" fill="#1e1e1e"/>
<circle cx="461.80" cy="491.90" r="0.8" fill="#1e1e1e"/>
<circle cx="464.25" cy="491.90" r="0.8" fill="#1e1e1e"/>
<text transform="translate(461.60,501.40) scale(0.900,1)" font-size="6.6" text-anchor="middle" fill="#2a2a2a" stroke="#2a2a2a" stroke-width="0.22"><tspan font-style="italic">P</tspan> = 0.00091</text>
<circle cx="440.27" cy="509.70" r="0.8" fill="#1e1e1e"/>
<circle cx="442.72" cy="509.70" r="0.8" fill="#1e1e1e"/>
<text transform="translate(441.50,519.90) scale(0.900,1)" font-size="6.6" text-anchor="middle" fill="#2a2a2a" stroke="#2a2a2a" stroke-width="0.22"><tspan font-style="italic">P</tspan> = 0.00217</text>
<text transform="translate(416.20,541.70) scale(0.940,1)" font-size="7.2" text-anchor="middle" fill="#2a2a2a" stroke="#2a2a2a" stroke-width="0.26">Day 1</text>
<text transform="translate(443.20,541.70) scale(0.940,1)" font-size="7.2" text-anchor="middle" fill="#2a2a2a" stroke="#2a2a2a" stroke-width="0.26">Day 3</text>
<text transform="translate(470.40,541.70) scale(0.940,1)" font-size="7.2" text-anchor="middle" fill="#2a2a2a" stroke="#2a2a2a" stroke-width="0.26">Day 5</text>
<text transform="translate(497.90,541.70) scale(0.940,1)" font-size="7.2" text-anchor="middle" fill="#2a2a2a" stroke="#2a2a2a" stroke-width="0.26">Day 7</text>
<rect x="0" y="0" width="520" height="1.05" fill="#000"/>
<rect x="0" y="0" width="1.15" height="588" fill="#000"/>
<rect x="518.6" y="0" width="1.4" height="588" fill="#000"/>
<rect x="0" y="586.6" width="520" height="1.4" fill="#000"/>
</svg>
</body></html>
